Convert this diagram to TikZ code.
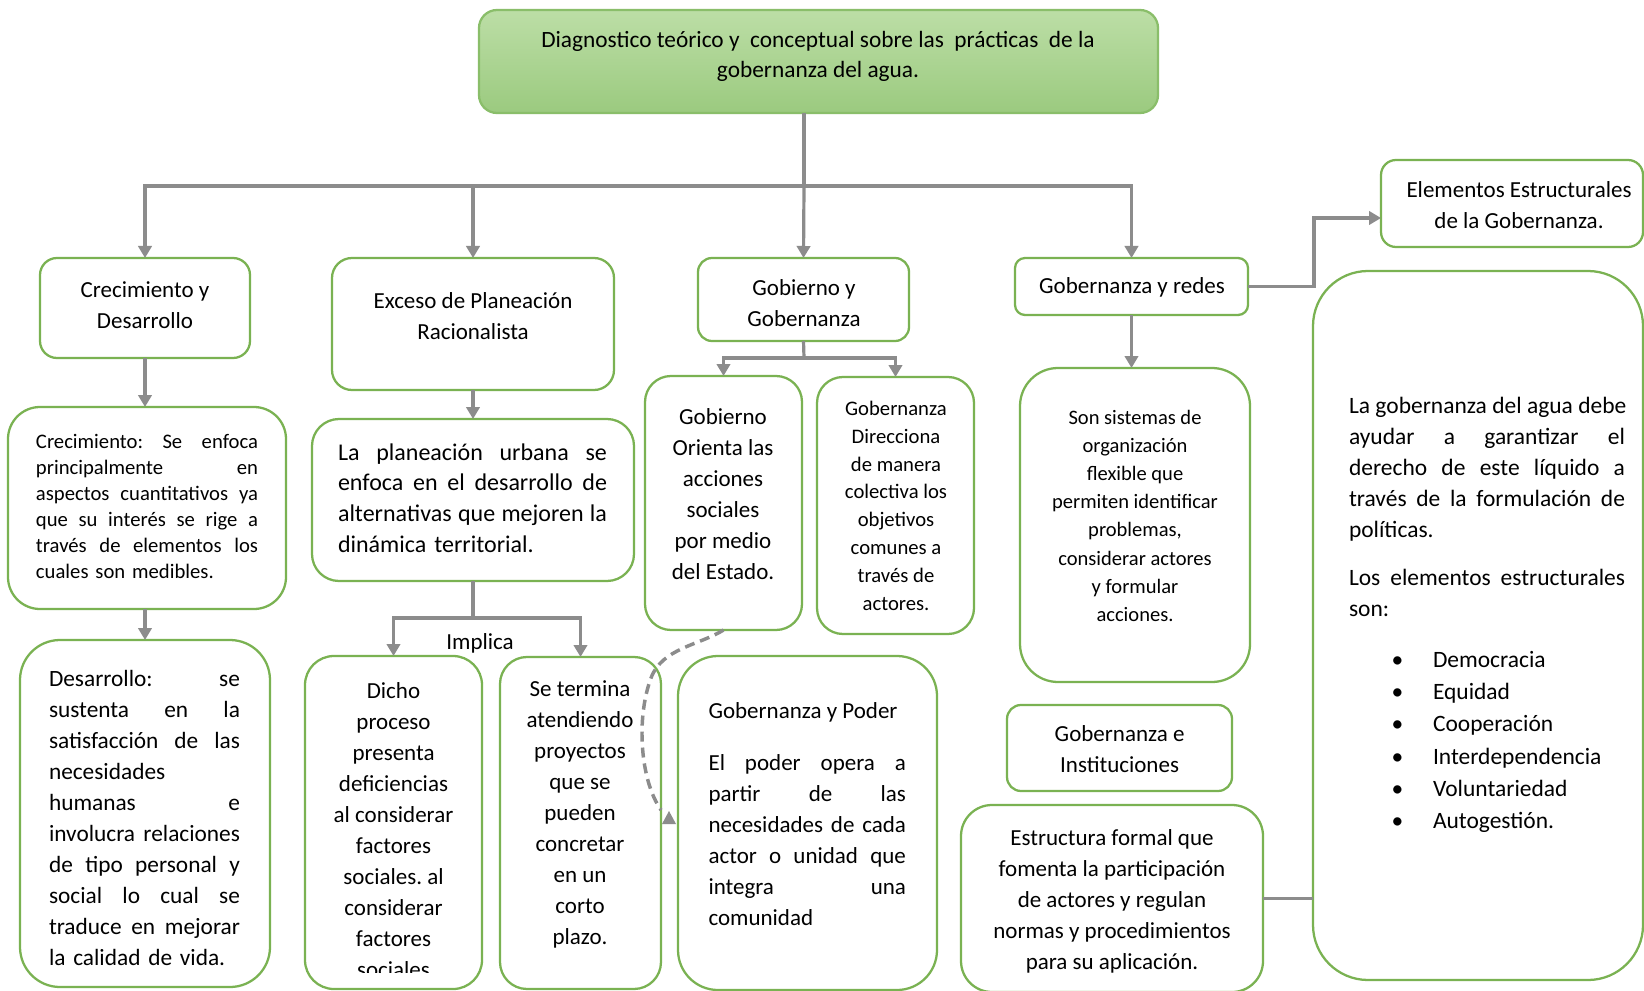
\documentclass[tikz,border=0pt]{standalone}
\usepackage{fontspec}
\setmainfont{Carlito}
\usetikzlibrary{arrows.meta,calc}
\definecolor{bgreen}{RGB}{122,178,82}
\definecolor{tgreenA}{RGB}{188,222,166}
\definecolor{tgreenB}{RGB}{155,202,127}
\definecolor{tborder}{RGB}{138,190,106}
\definecolor{cgray}{RGB}{140,140,140}
\newlength\jw
\newcommand\jl[1]{\leavevmode\hbox to \jw{\spaceskip=0.23em plus 1fil\relax #1}}
\newcommand\mybox[7][]{\node[gbox,#1,rounded corners=#7*0.75pt,minimum width={(#4-#2)*0.75pt},minimum height={(#5-#3)*0.75pt}] (#6) at ({(#2+#4)/2},{(#3+#5)/2}) {};}
\newcommand\bul[1]{\makebox[63pt][l]{\hspace*{32pt}\textbullet}#1}
\frenchspacing
\begin{document}
\begin{tikzpicture}[x=0.75pt,y=-0.75pt,
  gbox/.style={draw=bgreen,line width=1.7pt,fill=white,inner sep=0pt,outer sep=0pt},
  txt/.style={inner sep=0pt,outer sep=0pt,align=center,font=\fontsize{17.25}{23.25}\selectfont},
  small/.style={font=\fontsize{15.5}{20.9}\selectfont},
  conn/.style={draw=cgray,line width=2.4pt},
  arr/.style={conn,-{Triangle[length=9pt,width=10pt]}},
  dashconn/.style={draw=cgray,line width=2.6pt,dash pattern=on 7.5pt off 4.5pt}]
\useasboundingbox (0,0) rectangle (1644,991);
\fill[white] (0,0) rectangle (1644,991);

% boxes
\mybox[top color=tgreenA,bottom color=tgreenB,draw=tborder]{479}{10}{1158}{113}{top}{18}
\mybox{40}{258}{250}{358}{crec}{17}
\mybox{332}{258}{614}{390}{exc}{20}
\mybox{698}{258}{909}{341}{gyg}{14}
\mybox{1015}{258}{1248}{315}{redes}{10}
\mybox{1381}{160}{1643}{247}{elem}{15}
\mybox{1313}{271}{1643}{980}{big}{55}
\mybox{8}{407}{286}{609}{crect}{32}
\mybox{312}{419}{634}{581}{plan}{27}
\mybox{20}{640}{270}{987}{desa}{40}
\mybox{305}{656}{482}{989}{dicho}{29}
\mybox{500}{657}{661}{989}{term}{27}
\mybox{645}{376}{802}{630}{gobierno}{26}
\mybox{817}{377}{974}{634}{direc}{26}
\mybox{1020}{368}{1250}{682}{son}{38}
\mybox{678}{656}{937}{990}{poder}{40}
\mybox{1007}{705}{1232}{791}{inst}{14}
\mybox{961}{805}{1263}{992}{estr}{31}

% texts
\node[txt,font=\fontsize{17.5}{22.5}\selectfont] (topt) at (818,56) {Diagnostico teórico y~ conceptual sobre las~ prácticas~ de la\\gobernanza del agua.};
\node[txt] (crec-t) at (145,305) {Crecimiento y\\Desarrollo};
\node[txt] (exc-t) at (473,316) {Exceso de Planeación\\Racionalista};
\node[txt] (gyg-t) at (804,303.5) {Gobierno y\\Gobernanza};
\node[txt] (redes-t) at (1132,287) {Gobernanza y redes};
\node[txt] (elem-t) at (1519,205) {Elementos Estructurales\\de la Gobernanza.};

\node[txt,align=left,text width=166.5pt,font=\fontsize{15.5}{19.5}\selectfont] (crect-t) at (147,506)
 {\setlength\jw{166.5pt}\jl{Crecimiento: Se enfoca}\\\jl{principalmente en}\\\jl{aspectos cuantitativos ya}\\\jl{que su interés se rige a}\\\jl{través de elementos los}\\cuales son medibles.};
\node[txt,align=left,text width=201.75pt,font=\fontsize{18}{23}\selectfont] (plan-t) at (472.5,498)
 {\setlength\jw{201.75pt}\jl{La planeación urbana se}\\\jl{enfoca en el desarrollo de}\\\jl{alternativas que mejoren la}\\dinámica territorial.};
\node[txt,align=left,text width=143.25pt,font=\fontsize{17.5}{23.25}\selectfont] (desa-t) at (144.5,818)
 {\setlength\jw{143.25pt}\jl{Desarrollo: se}\\\jl{sustenta en la}\\\jl{satisfacción de las}\\necesidades\\\jl{humanas e}\\\jl{involucra relaciones}\\\jl{de tipo personal y}\\\jl{social lo cual se}\\\jl{traduce en mejorar}\\la calidad de vida.};
\begin{scope}
\clip (305,656) rectangle (482,972);
\node[txt] (dicho-t) at (393.5,830.5) {Dicho\\proceso\\presenta\\deficiencias\\al considerar\\factores\\sociales. al\\considerar\\factores\\sociales};
\end{scope}
\node[txt] (term-t) at (580,814.5) {Se termina\\atendiendo\\proyectos\\que se\\pueden\\concretar\\en un\\corto\\plazo.};
\node[txt] (gobierno-t) at (723,494) {Gobierno\\Orienta las\\acciones\\sociales\\por medio\\del Estado.};
\node[txt,small] (direc-t) at (896,505.8) {Gobernanza\\Direcciona\\de manera\\colectiva los\\objetivos\\comunes a\\través de\\actores.};
\node[txt,font=\fontsize{15.4}{21.1}\selectfont] (son-t) at (1135,515.8) {Son sistemas de\\organización\\flexible que\\permiten identificar\\problemas,\\considerar actores\\y formular\\acciones.};
\node[txt,anchor=west] (poder-h) at (708.5,712) {Gobernanza y Poder};
\node[txt,align=left,text width=148.1pt] (poder-t) at (807.25,840)
 {\setlength\jw{148.1pt}\jl{El poder opera a}\\\jl{partir de las}\\\jl{necesidades de cada}\\\jl{actor o unidad que}\\\jl{integra una}\\comunidad};
\node[txt] (inst-t) at (1119.6,749) {Gobernanza e\\Instituciones};
\node[txt] (estr-t) at (1112,901.7) {Estructura formal que\\fomenta la participación\\de actores y regulan\\normas y procedimientos\\para su aplicación.};
\node[txt,align=left,text width=207pt,font=\fontsize{17.6}{23.25}\selectfont] (big-t) at (1487,615)
 {\setlength\jw{207pt}\jl{La gobernanza del agua debe}\\\jl{ayudar a garantizar el}\\\jl{derecho de este líquido a}\\\jl{través de la formulación de}\\políticas.\\[12.75pt]\jl{Los elementos estructurales}\\son:\\[15pt]\bul{Democracia}\\[1pt]\bul{Equidad}\\[1pt]\bul{Cooperación}\\[1pt]\bul{Interdependencia}\\[1pt]\bul{Voluntariedad}\\[1pt]\bul{Autogestión.}};
\node[txt] (impl) at (480,643) {Implica};

% connectors
\coordinate (bus) at (804,186);
\draw[conn] (bus |- top.south) -- (bus);
\draw[arr] (bus) -| (crec.north);
\draw[arr] (bus) -| (exc.north);
\draw[arr] (bus) -- (gyg.north);
\draw[arr] (bus) -| (redes.north);
\draw[arr] (crec.south) -- (crec.south |- crect.north);
\draw[arr] (crect.south -| crec.south) -- (crec.south |- desa.north);
\draw[arr] (exc.south) -- (exc.south |- plan.north);
\coordinate (imp) at (473,618);
\draw[conn] (plan.south) -- (imp);
\draw[arr] (imp) -| (dicho.north);
\draw[arr] (imp) -| (term.north);
\coordinate (gsplit) at (804,358);
\draw[conn] (gyg.south) -- (gsplit);
\draw[arr] (gsplit) -| (gobierno.north);
\draw[arr] (gsplit) -| (direc.north);
\draw[arr] (redes.south) -- (redes.south |- son.north);
\coordinate (elbow) at (1314,218);
\draw[arr] (redes.east) -| (elbow) -- (elbow -| elem.west);
\draw[conn] (estr.east) -- (estr.east -| big.west);
\coordinate (dend) at (661,810);
\draw[dashconn] (gobierno.south) .. controls (700,645) and (662,648) .. (651,678) .. controls (636,718) and (640,780) .. (dend);
\coordinate (dtip) at (669,811);
\fill[cgray] (dtip) -- ++(-7,13) -- ++(14,0) -- cycle;
\end{tikzpicture}
\end{document}
